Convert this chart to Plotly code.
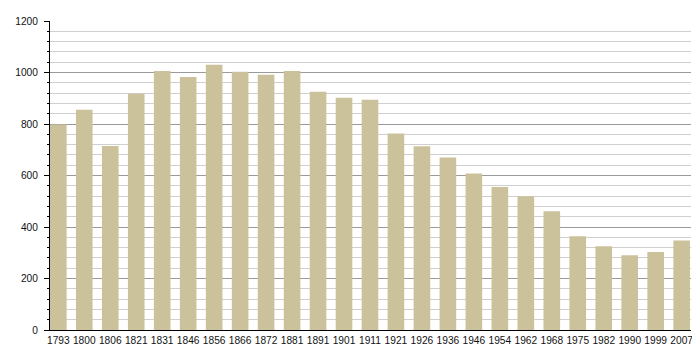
import plotly.graph_objects as go

years = ["1793", "1800", "1806", "1821", "1831", "1846", "1856", "1866", "1872", "1881",
         "1891", "1901", "1911", "1921", "1926", "1936", "1946", "1954", "1962", "1968",
         "1975", "1982", "1990", "1999", "2007"]
population = [798, 855, 715, 917, 1006, 983, 1030, 1003, 991, 1006,
              925, 902, 894, 763, 714, 670, 608, 555, 519, 461,
              364, 325, 290, 303, 348]

y_ticks = [0, 200, 400, 600, 800, 1000, 1200]

idx = list(range(len(years)))

fig = go.Figure(go.Bar(
    x=idx, y=population, width=0.64,
    marker=dict(color="#CBC29B", line=dict(width=0)),
    hoverinfo="skip",
))

# page body has an 8px default margin, so the figure is sized/offset to compensate
fig.update_layout(
    width=692, height=352,
    margin=dict(l=42, r=9, t=13, b=30),
    paper_bgcolor="white", plot_bgcolor="white",
    showlegend=False,
    font=dict(family="Liberation Sans, Arial, sans-serif", size=10, color="#000"),
)
fig.update_xaxes(
    range=[-0.32, 24.36],
    tickmode="array", tickvals=idx, ticktext=years,
    showgrid=False, zeroline=False,
    showline=True, linecolor="#000", linewidth=1,
    ticks="", ticklen=0,
    tickfont=dict(size=10.2, color="#111"),
    ticklabelstandoff=1,
    automargin=False,
)
fig.update_yaxes(
    range=[0, 1200],
    tickmode="array", tickvals=y_ticks,
    showgrid=True, gridcolor="#9a9a9a", gridwidth=1,
    zeroline=False,
    showline=True, linecolor="#000", linewidth=1,
    ticks="outside", ticklen=5, tickcolor="#000", tickwidth=1,
    tickfont=dict(size=10.2, color="#111"),
    ticklabelstandoff=4,
    minor=dict(dtick=40, showgrid=True, gridcolor="#cfcfcf", gridwidth=1,
               ticks="outside", ticklen=2, tickcolor="#000"),
    layer="below traces",
    automargin=False,
)

fig.write_html("out.html")
